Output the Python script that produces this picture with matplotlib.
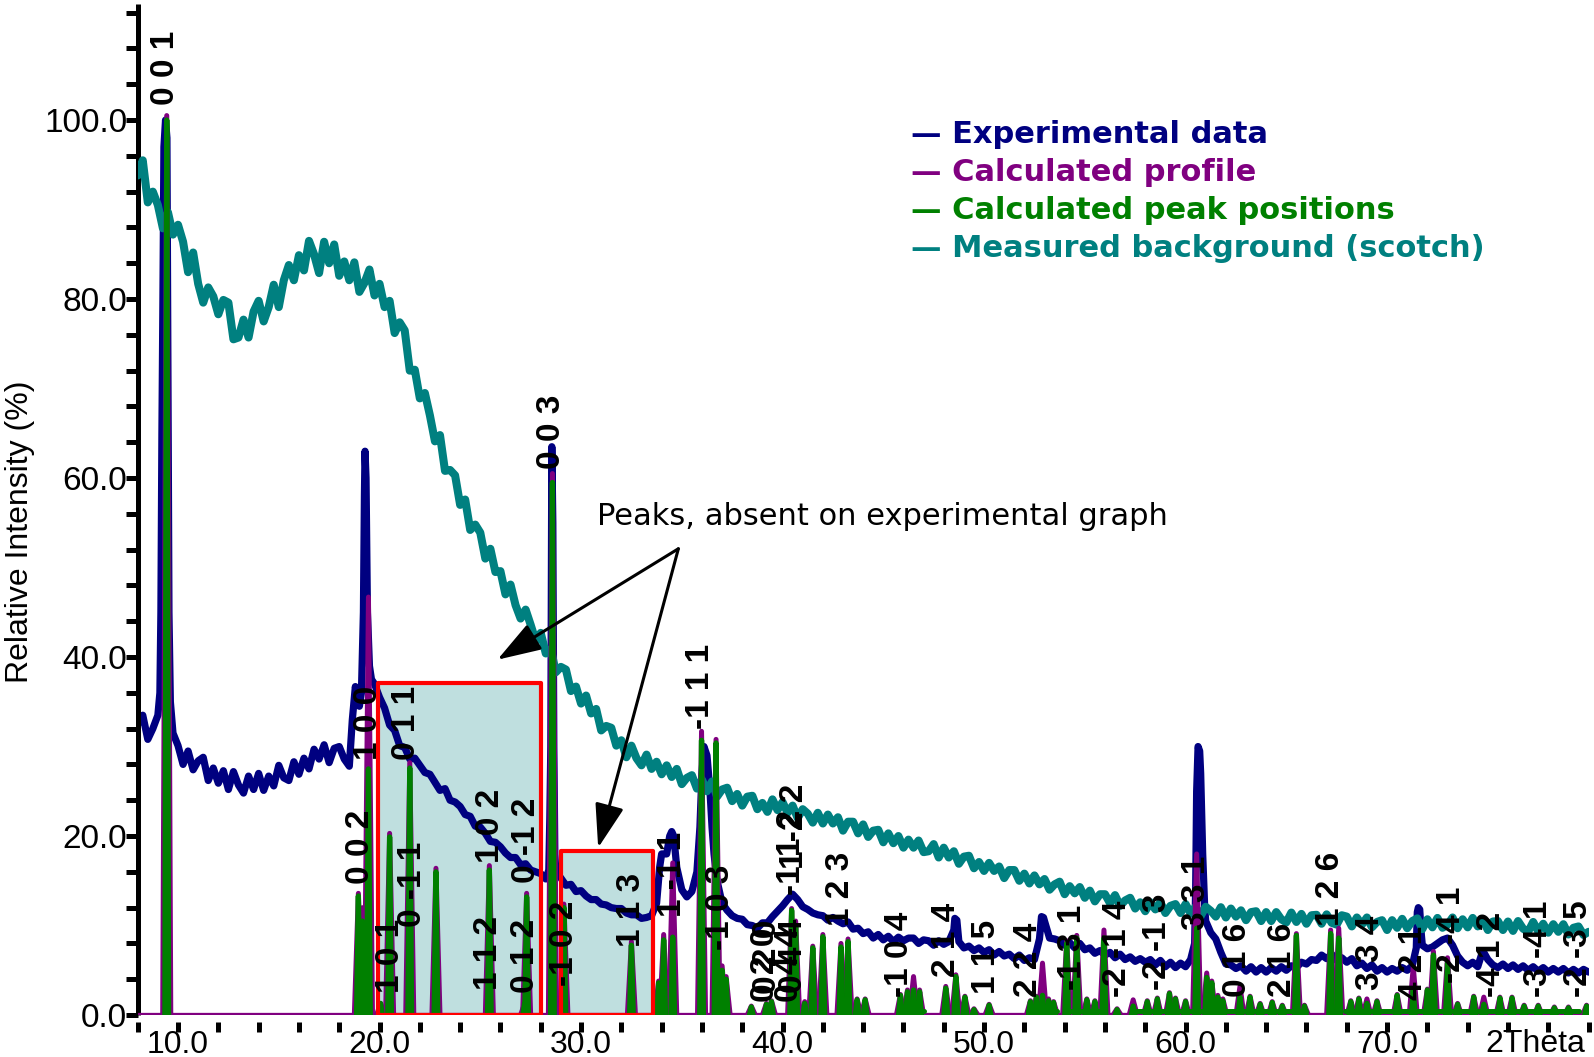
import numpy as np
import matplotlib
matplotlib.use('Agg')
import matplotlib.pyplot as plt
from matplotlib.patches import Rectangle
from matplotlib.ticker import MultipleLocator, FormatStrFormatter

# ---------------- data ----------------
grid_start, grid_end, grid_step = 8.0, 80.0, 0.25

# measured background (scotch), read every 0.25 deg from 8 to 80
bg_y = [
    93.8, 95.5, 90.8, 92.0, 90.5, 87.9, 89.7, 87.2,
    88.3, 86.4, 83.0, 85.2, 81.7, 79.6, 81.3, 80.3,
    78.3, 79.9, 79.6, 75.5, 75.7, 77.7, 75.7, 78.6,
    79.8, 77.5, 79.1, 81.6, 79.1, 82.1, 83.8, 82.1,
    84.9, 83.2, 86.5, 85.0, 82.9, 86.4, 84.0, 86.1,
    82.6, 84.2, 82.1, 84.1, 80.8, 81.8, 83.3, 80.4,
    81.7, 79.1, 79.8, 76.2, 77.4, 76.5, 72.0, 72.1,
    68.9, 69.5, 67.0, 64.1, 64.8, 60.8, 60.9, 60.3,
    57.0, 57.6, 54.2, 54.8, 53.9, 51.0, 52.1, 49.5,
    49.6, 47.0, 48.1, 45.8, 44.3, 45.3, 43.6, 41.8,
    42.7, 40.4, 40.9, 38.3, 38.9, 38.6, 36.2, 36.7,
    34.8, 35.7, 33.7, 34.2, 31.8, 32.3, 32.1, 30.1,
    30.7, 28.8, 30.1, 28.7, 27.9, 29.1, 27.5, 28.3,
    26.9, 27.9, 26.6, 27.5, 25.8, 26.5, 26.8, 25.3,
    26.3, 25.0, 26.1, 24.4, 25.2, 25.4, 23.9, 24.7,
    23.4, 24.4, 24.5, 23.0, 23.7, 22.7, 24.1, 22.9,
    23.8, 22.6, 23.4, 22.0, 23.0, 22.5, 21.5, 22.6,
    21.4, 22.4, 21.4, 22.1, 20.6, 21.6, 21.6, 20.3,
    21.3, 19.9, 20.6, 20.7, 19.3, 20.3, 19.2, 20.0,
    18.7, 19.6, 18.7, 19.5, 18.2, 18.3, 19.1, 17.6,
    18.7, 17.6, 18.3, 16.9, 17.7, 17.8, 16.4, 17.1,
    16.1, 17.0, 16.1, 16.6, 15.3, 16.2, 16.2, 15.0,
    15.8, 14.7, 15.6, 14.6, 15.2, 14.0, 14.6, 14.9,
    13.5, 14.4, 13.6, 14.3, 13.1, 13.9, 12.7, 13.5,
    13.5, 12.5, 13.4, 12.2, 12.8, 13.1, 11.9, 12.6,
    11.6, 12.6, 11.8, 12.6, 11.4, 12.2, 12.4, 11.4,
    12.4, 11.35, 12.1, 11.05, 12.1, 11.65, 11.0, 12.05,
    10.9, 11.9, 11.0, 11.7, 10.6, 11.5, 11.6, 10.5,
    11.5, 10.5, 11.5, 10.7, 10.35, 11.45, 10.4, 11.3,
    10.2, 11.15, 11.2, 10.2, 11.25, 10.3, 10.1, 11.15,
    11.0, 9.9, 10.9, 10.1, 10.9, 9.8, 10.4, 10.6,
    9.5, 10.6, 9.75, 10.75, 9.7, 10.5, 10.8, 9.6,
    10.7, 9.8, 10.85, 9.75, 10.1, 10.9, 9.7, 10.7,
    9.8, 10.85, 9.9, 10.65, 9.5, 10.45, 10.5, 9.5,
    10.45, 9.4, 10.5, 9.65, 9.3, 10.4, 9.35, 10.2,
    9.2, 10.15, 9.3, 10.15, 9.0, 9.75, 9.9, 8.95,
    9.3,
]

# experimental data, read every 0.25 deg from 8 to 80
exp_grid_y = [
    32.5, 33.5, 30.8, 32.0, 33.5, 80.0, 70.0, 31.5,
    30.1, 28.0, 29.5, 27.4, 28.4, 28.8, 26.2, 27.6,
    25.9, 27.3, 25.2, 27.2, 25.7, 24.8, 26.7, 25.2,
    27.0, 25.1, 26.7, 25.6, 27.9, 26.5, 26.2, 28.3,
    26.9, 28.7, 27.5, 29.7, 28.6, 30.2, 28.2, 29.8,
    30.0, 28.6, 27.8, 35.5, 34.5, 58.0, 39.0, 37.0,
    35.5, 34.3, 32.4, 31.8, 30.1, 29.9, 28.6, 28.7,
    27.9, 27.1, 26.9, 26.0, 25.1, 25.3, 24.0, 23.8,
    23.3, 22.4, 22.2, 21.1, 21.0, 20.3, 19.4, 19.3,
    18.8, 18.1, 17.6, 17.6, 16.8, 16.9, 16.2, 16.0,
    15.8, 15.2, 30.0, 16.0, 15.3, 14.5, 14.6, 13.8,
    13.9, 13.3, 12.9, 12.9, 12.4, 12.3, 12.0, 11.9,
    11.9, 11.4, 11.2, 11.2, 10.8, 10.9, 11.1, 12.5,
    18.0, 18.0, 20.5, 16.5, 14.0, 13.2, 13.8, 16.0,
    27.0, 29.0, 21.0, 15.0, 12.5, 11.7, 11.1, 10.8,
    10.7, 10.1, 10.0, 9.7, 10.3, 10.3, 11.0, 11.6,
    12.2, 12.9, 13.5, 12.9, 12.1, 11.8, 11.4, 11.2,
    11.1, 10.6, 10.9, 10.5, 10.2, 10.4, 9.6, 9.7,
    9.1, 9.3, 8.6, 9.0, 8.4, 8.8, 8.2, 8.7,
    8.3, 8.6, 8.6, 8.0, 8.4, 8.3, 7.8, 8.3,
    7.9, 8.2, 9.5, 8.2, 7.5, 7.7, 7.2, 7.5,
    7.0, 7.3, 6.7, 7.1, 6.6, 6.8, 6.3, 6.7,
    6.1, 6.4, 6.2, 8.5, 10.5, 8.6, 8.5, 8.3,
    7.8, 8.1, 7.5, 8.0, 7.3, 7.5, 6.9, 7.2,
    6.7, 7.0, 6.4, 6.8, 6.2, 6.5, 6.0, 6.3,
    5.9, 6.2, 5.6, 6.1, 5.4, 5.9, 5.3, 5.8,
    5.4, 6.2, 14.0, 27.0, 10.5, 9.2, 8.5, 7.0,
    5.7, 5.6, 5.2, 5.5, 4.9, 5.4, 4.8, 5.3,
    4.8, 5.3, 4.9, 5.4, 5.0, 5.5, 5.3, 5.9,
    5.7, 6.2, 6.1, 6.7, 6.3, 6.8, 6.1, 6.4,
    5.9, 6.3, 5.5, 5.8, 5.2, 5.6, 4.9, 5.3,
    4.8, 5.2, 4.9, 5.3, 5.0, 5.5, 11.5, 7.8,
    7.4, 7.6, 8.0, 8.4, 8.6, 7.8, 6.6, 5.9,
    5.5, 5.9, 5.4, 7.2, 6.2, 5.6, 5.3, 5.7,
    5.2, 5.6, 5.1, 5.5, 5.0, 5.4, 4.9, 5.3,
    4.8, 5.2, 4.8, 5.2, 4.7, 5.1, 4.7, 5.1,
    4.8,
]

# extra experimental points read on the sharp peaks
exp_peak_x = [9.1, 9.15, 9.2, 9.3, 9.38, 9.45, 9.55, 9.62,
              18.65, 18.8, 18.9, 19.1, 19.2, 19.28, 19.33, 19.4, 19.6,
              28.4, 28.45, 28.55, 28.6, 28.65, 28.7,
              33.9, 34.4, 34.6,
              35.9, 36.1, 36.4, 36.6,
              48.55, 48.65,
              52.85, 52.95,
              60.45, 60.55, 60.62, 60.7, 60.85, 60.95,
              71.45, 71.55, 71.62, 71.7]
exp_peak_y = [36, 45, 65, 97, 100, 98, 45, 35,
              33, 36.7, 35.5, 36, 45, 63, 60, 45, 37.5,
              16.2, 22, 63.5, 55, 30, 18,
              16.5, 20, 20,
              21, 30, 25, 18,
              10.8, 10.6,
              11, 10.9,
              8, 25, 30, 29.5, 18, 12,
              7.5, 12, 11.8, 9]

# calculated peaks: position, height of calculated peak, height of calculated profile
pk_pos = [9.44, 18.95, 19.15, 19.45, 20.05, 20.5, 21.5, 22.8, 25.45, 27.2, 27.3,
          28.58, 29.15, 32.5, 33.85, 34.1, 34.55, 35.98, 36.7, 37.0, 37.2, 38.45,
          39.2, 39.45, 40.45, 40.65, 41.1, 41.5, 42.0, 42.9, 43.25, 43.7, 44.1,
          45.85, 46.2, 46.5, 46.8, 48.1, 48.6, 49.05, 49.5, 50.25, 52.3, 52.6,
          52.9, 53.2, 53.45, 54.1, 54.6, 55.1, 55.5, 55.95, 56.6, 57.4, 58.1,
          58.6, 59.2, 59.5, 60.0, 60.55, 61.05, 61.3, 61.6, 61.85, 62.7, 63.2,
          63.7, 64.3, 64.8, 65.5, 65.9, 67.2, 67.6, 68.2, 68.6, 69.0, 69.5,
          70.5, 71.3, 72.0, 72.3, 73.0, 73.5, 74.3, 74.8, 75.6, 76.2, 76.8,
          77.5, 78.3, 79.0, 79.9]
pk_calc = [100, 13.3, 10.5, 27.5, 1.3, 19.9, 27.6, 16.0, 16.2, 1.3, 13.2,
           59.5, 12.0, 7.8, 3.6, 8.4, 8.7, 30.7, 30.4, 5.0, 4.0, 0.9,
           1.2, 1.5, 11.7, 10.0, 1.3, 7.5, 8.75, 7.6, 8.2, 1.7, 1.7,
           2.2, 2.6, 2.8, 2.6, 3.0, 4.3, 2.0, 0.6, 1.1, 1.5, 2.0,
           2.2, 1.6, 1.4, 8.0, 8.6, 1.7, 1.5, 8.6, 0.6, 1.0, 1.5,
           1.8, 2.4, 1.8, 1.5, 9.7, 4.2, 3.6, 2.0, 1.6, 2.0, 2.0,
           1.2, 1.4, 1.0, 8.9, 1.0, 9.1, 8.6, 1.5, 1.8, 1.3, 1.5,
           2.2, 2.8, 2.8, 6.7, 5.8, 1.2, 2.0, 1.2, 1.9, 1.9, 1.0,
           1.0, 0.8, 0.8, 1.0]
pk_prof = [100.5, 13.6, 12.0, 46.7, 1.3, 20.3, 28.2, 16.4, 16.7, 1.3, 13.6,
           60.5, 12.4, 8.2, 3.8, 9.0, 17.0, 31.7, 30.8, 5.5, 4.3, 1.0,
           1.3, 1.6, 11.9, 10.5, 1.5, 7.7, 9.0, 8.0, 8.5, 1.8, 1.8,
           2.3, 2.8, 4.3, 2.8, 3.2, 4.5, 2.1, 0.7, 1.2, 1.6, 2.1,
           5.8, 1.8, 1.5, 8.3, 8.9, 1.8, 1.6, 9.5, 0.7, 1.7, 1.6,
           1.9, 2.5, 1.9, 1.6, 18.0, 4.7, 3.8, 2.2, 1.8, 3.2, 2.1,
           1.3, 1.5, 1.1, 9.1, 1.1, 9.5, 9.7, 1.6, 1.9, 1.8, 1.6,
           2.3, 5.4, 2.9, 7.1, 6.4, 1.3, 2.1, 2.0, 2.0, 2.0, 1.1,
           1.1, 0.9, 0.9, 1.1]

# ranges where the calculated-peak trace covers the baseline
green_band_start = [45.8, 52.2, 54.0, 57.6, 67.9]
green_band_end = [47.0, 53.6, 56.0, 66.0, 79.5]
green_band_level = 0.5

# hkl labels: text, 2theta, intensity at the start of the label
hkl_text = ["0 0 1", "0 0 2", "1 0 0", "1 0 1", "0 1 1", "0 -1 1", "1 1 2", "1 0 2",
            "0 1 2", "0 -1 2", "0 0 3", "-1 0 2", "1 1 3", "1 -1 1", "-1 1 1", "-1 0 3",
            "0 2 0", "0 2 0", "0 4 4", "0 4 4", "-1 1 2", "1 -2 2", "1 2 3", "-1 0 4", "2 1 4",
            "1 1 5", "2 2 4", "-1 3 1", "-2 -1 4", "-2 -1 3", "3 3 1", "0 1 6",
            "2 1 6", "1 2 6", "3 3 4", "4 2 1", "-2 -4 1", "-4 1 2", "-3 -4 1", "-2 -3 5"]
hkl_x = [9.4, 19.08, 19.43, 20.55, 21.35, 21.66, 25.4, 25.5,
         27.25, 27.3, 28.55, 29.2, 32.5, 34.55, 35.95, 36.9,
         39.15, 39.25, 40.35, 40.55, 40.45, 40.6, 42.9, 45.8, 48.15,
         50.1, 52.2, 54.4, 56.6, 58.6, 60.55, 62.6,
         64.8, 67.2, 69.2, 71.3, 73.2, 75.2, 77.5, 79.5]
hkl_y = [101.7, 14.6, 28.5, 2.5, 28.5, 9.8, 2.8, 17.0,
         2.5, 14.7, 61.0, 3.2, 7.6, 11.0, 32.0, 7.3,
         1.5, 2.3, 1.5, 2.5, 13.4, 16.3, 9.9, 2.0, 4.3,
         2.4, 2.0, 2.8, 2.0, 2.8, 9.5, 2.0,
         2.0, 9.9, 2.8, 1.7, 3.6, 2.0, 2.0, 2.0]

# highlighted regions (2theta start, 2theta end, top)
box_x0 = [19.94, 29.0]
box_x1 = [28.01, 33.56]
box_top = [37.06, 18.3]

# annotation
note_text = "Peaks, absent on experimental graph"
note_xy = (30.8, 54.7)
arrow_from = (34.83, 52.1)
arrow_to = [(25.85, 39.7), (30.85, 18.7)]

legend_labels = ["Experimental data", "Calculated profile",
                 "Calculated peak positions", "Measured background (scotch)"]

# ---------------- styles ----------------
NAVY = '#000080'
PURPLE = '#800080'
GREEN = '#008000'
TEAL = '#008080'
SANS = ['Liberation Sans', 'DejaVu Sans']

fig = plt.figure(figsize=(15.94, 10.57), dpi=100)
ax = fig.add_axes([0.0864, 0.0397, 0.9102, 0.9568])
ax.set_xlim(8, 80)
ax.set_ylim(0, 113)

grid_x = np.arange(grid_start, grid_end + grid_step / 2, grid_step)
line_kw = dict(solid_capstyle='round', solid_joinstyle='round')

# experimental data
ex = np.concatenate([grid_x, exp_peak_x])
ey = np.concatenate([exp_grid_y, exp_peak_y])
order = np.argsort(ex, kind='stable')
ax.plot(ex[order], ey[order], color=NAVY, lw=5.2, zorder=2, **line_kw)

# background
ax.plot(grid_x, bg_y, color=TEAL, lw=5.8, zorder=3, **line_kw)

# calculated profile
ax.plot([8, 80], [0, 0], color=PURPLE, lw=3.8, zorder=4, **line_kw)
for p, h in zip(pk_pos, pk_prof):
    ax.plot([p - 0.2, p, p + 0.2], [0, h, 0], color=PURPLE, lw=3.6, zorder=4, **line_kw)

# calculated peak positions
for a, b in zip(green_band_start, green_band_end):
    ax.plot([a, b], [green_band_level, green_band_level], color=GREEN, lw=3.6, zorder=5, **line_kw)
for p, h in zip(pk_pos, pk_calc):
    ax.plot([p - 0.09, p, p + 0.09], [0, h, 0], color=GREEN, lw=3.8, zorder=5, **line_kw)

# highlighted boxes
for a, b, t in zip(box_x0, box_x1, box_top):
    ax.add_patch(Rectangle((a, 0), b - a, t, facecolor='#bfdfdf', edgecolor='none', zorder=1))
    ax.add_patch(Rectangle((a, 0), b - a, t, facecolor='none', edgecolor='#ff0000', lw=3.0,
                           zorder=6, joinstyle='round'))

# hkl labels
for t, x, y in zip(hkl_text, hkl_x, hkl_y):
    ax.text(x, y, t, rotation=90, ha='center', va='bottom', fontsize=24,
            fontweight='bold', family=SANS, color='black', zorder=8)

# annotation and arrows
ax.text(note_xy[0], note_xy[1], note_text, fontsize=22, family='DejaVu Sans',
        va='baseline', ha='left', zorder=8)
for tip in arrow_to:
    ax.annotate('', xy=tip, xytext=arrow_from,
                arrowprops=dict(arrowstyle='-|>,head_length=0.9,head_width=0.3',
                                lw=2.2, color='black', mutation_scale=30,
                                shrinkA=0, shrinkB=0), zorder=7)

# legend (coloured texts)
leg_colors = [NAVY, PURPLE, GREEN, TEAL]
leg_y = [0.8650, 0.8290, 0.7930, 0.7568]
for lab, c, yy in zip(legend_labels, leg_colors, leg_y):
    fig.text(0.5715, yy, '\u2014 ' + lab, color=c, fontsize=22, fontweight='bold',
             family='DejaVu Sans', va='baseline', ha='left')

# axes styling
for s in ['top', 'right']:
    ax.spines[s].set_visible(False)
ax.spines['bottom'].set_position(('outward', 5))
ax.spines['bottom'].set_visible(False)
ax.spines['left'].set_linewidth(3.6)
ax.spines['left'].set_capstyle('butt')

ax.set_xticks([10, 20, 30, 40, 50, 60, 70])
ax.xaxis.set_minor_locator(MultipleLocator(2))
ax.xaxis.set_major_formatter(FormatStrFormatter('%.1f'))
ax.set_yticks([0, 20, 40, 60, 80, 100])
ax.yaxis.set_minor_locator(MultipleLocator(4))
ax.yaxis.set_major_formatter(FormatStrFormatter('%.1f'))
ax.tick_params(axis='x', which='both', direction='out', length=7.2, width=3.6, pad=-1.5,
               labelsize=23, color='black')
ax.tick_params(axis='y', which='both', direction='out', length=8.6, width=3.6, pad=-1,
               labelsize=24, color='black')
for lbl in ax.get_xticklabels() + ax.get_yticklabels():
    lbl.set_family(SANS)

ax.text(79.85, -0.0135, '2Theta', transform=ax.get_xaxis_transform(), ha='right', va='top',
        fontsize=23, family=SANS)
fig.text(0.0125, 0.4967, 'Relative Intensity (%)', rotation=90, ha='center', va='center',
         fontsize=23, family=SANS)

fig.savefig('out.png', dpi=100)
